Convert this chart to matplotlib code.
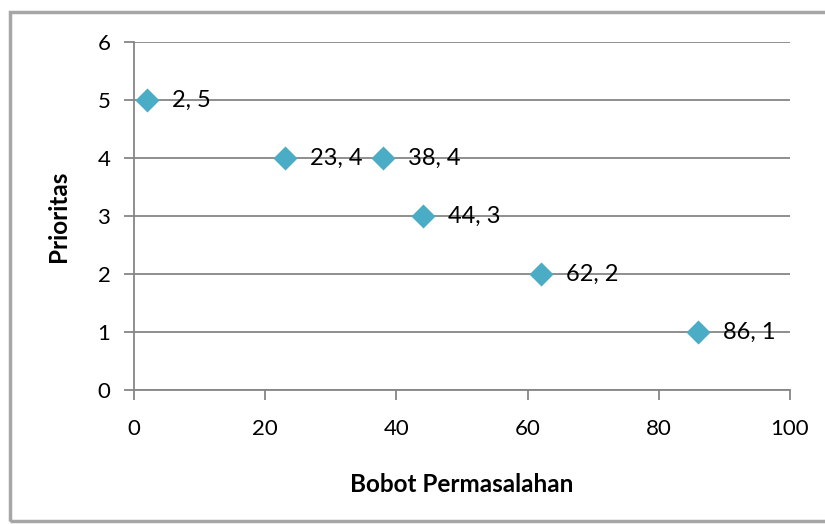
import matplotlib.pyplot as plt
from matplotlib.patches import Rectangle

# data
bobot = [2, 23, 38, 44, 62, 86]
prioritas = [5, 4, 4, 3, 2, 1]

plt.rcParams["font.family"] = ["Lato", "DejaVu Sans"]
grid_c = "#868686"
marker_c = "#4BACC6"

fig = plt.figure(figsize=(8.25, 5.24), dpi=100)
fig.patches.append(Rectangle((10 / 825, 3 / 524), 830 / 825, 509 / 524,
                             transform=fig.transFigure, fill=False,
                             edgecolor="#a6a6a6", linewidth=2.5))
ax = fig.add_axes([134 / 825, 134 / 524, 656 / 825, 348 / 524])

ax.scatter(bobot, prioritas, marker="D", s=150, color=marker_c, zorder=3,
           linewidths=0)
for x, y in zip(bobot, prioritas):
    ax.annotate(f"{x}, {y}", xy=(x, y), xytext=(18, 0), textcoords="offset points",
                va="center", ha="left", fontsize=17)

ax.set_xlim(0, 100)
ax.set_ylim(0, 6)
ax.set_xticks(range(0, 101, 20))
ax.set_yticks(range(0, 7))
ax.grid(axis="y", color=grid_c, linewidth=1.3)
ax.set_axisbelow(True)
for s in ["top", "right"]:
    ax.spines[s].set_visible(False)
for s in ["left", "bottom"]:
    ax.spines[s].set_color(grid_c)
    ax.spines[s].set_linewidth(1.3)
ax.tick_params(axis="both", direction="out", length=7, width=1.3, color=grid_c,
               labelsize=16, pad=10)
ax.tick_params(axis="x", pad=14)

ax.set_xlabel("Bobot Permasalahan", fontsize=17.5, fontweight="bold", labelpad=24)
ax.set_ylabel("Prioritas", fontsize=17.5, fontweight="bold", labelpad=20)

fig.savefig("out.png", dpi=100)
